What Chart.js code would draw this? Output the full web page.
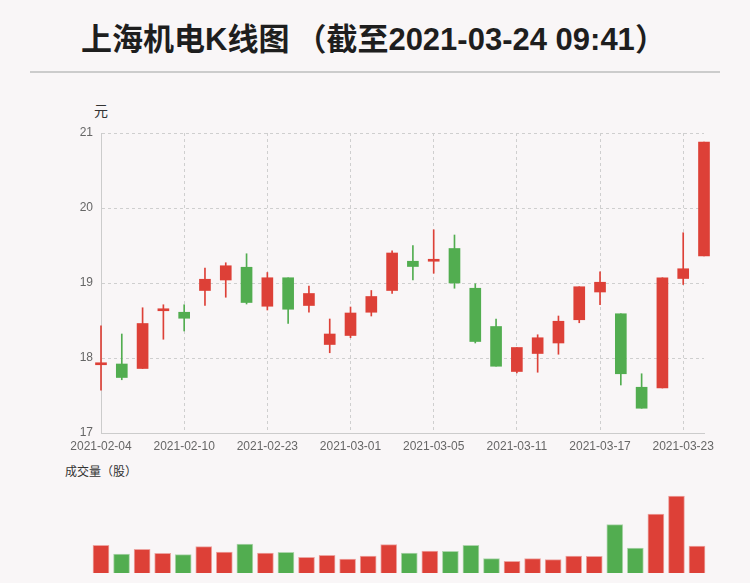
<!DOCTYPE html>
<html>
<head>
<meta charset="utf-8">
<script src="https://cdn.jsdelivr.net/npm/chart.js@4.4.0/dist/chart.umd.min.js"></script>
<style>
  body { margin: 0; background: #f9f6f7; }
  #wrap { position: relative; width: 750px; height: 583px; overflow: hidden; background: #f9f6f7; }
  .title { position: absolute; left: 81px; top: 15px; font: bold 31px "Liberation Sans", "Noto Sans CJK SC", sans-serif; color: #1e1e1e; line-height: 44px; white-space: nowrap; }
  .title .cjk { font-family: "Noto Sans CJK SC", sans-serif; }
  .title .lp { margin-left: 6px; }
  .sep { position: absolute; left: 30px; top: 71px; width: 690px; height: 2px; background: #cccccc; }
  .unit { position: absolute; font-family: "Noto Sans CJK SC", sans-serif; color: #333; white-space: nowrap; }
  canvas { position: absolute; left: 0; }
</style>
</head>
<body>
<div id="wrap">
  <div class="title"><span class="cjk">上海机电</span>K<span class="cjk">线图</span><span class="cjk lp">（截至</span>2021-03-24 09:41<span class="cjk">）</span></div>
  <div class="sep"></div>
  <div class="unit" style="left:94px; top:100px; font-size:14px; line-height:20px;">元</div>
  <div class="unit" style="left:65px; top:462px; font-size:12px; line-height:18px;">成交量（股）</div>
  <canvas id="kline" width="750" height="460" style="top:0"></canvas>
  <canvas id="vol" width="750" height="100" style="top:483px"></canvas>
</div>
<script>
const dates = ['2021-02-04', '2021-02-05', '2021-02-08', '2021-02-09', '2021-02-10',
  '2021-02-18', '2021-02-19', '2021-02-22', '2021-02-23', '2021-02-24',
  '2021-02-25', '2021-02-26', '2021-03-01', '2021-03-02', '2021-03-03',
  '2021-03-04', '2021-03-05', '2021-03-08', '2021-03-09', '2021-03-10',
  '2021-03-11', '2021-03-12', '2021-03-15', '2021-03-16', '2021-03-17',
  '2021-03-18', '2021-03-19', '2021-03-22', '2021-03-23', '2021-03-24'];
const open  = [17.91, 17.92, 17.86, 18.63, 18.61, 18.90, 19.04, 19.21, 18.69, 19.07,
  18.70, 18.18, 18.30, 18.61, 18.90, 19.29, 19.29, 19.46, 18.93, 18.42,
  17.82, 18.06, 18.20, 18.51, 18.88, 18.59, 17.61, 17.60, 19.06, 19.36];
const close = [17.91, 17.74, 18.46, 18.65, 18.53, 19.05, 19.23, 18.74, 19.07, 18.65,
  18.86, 18.32, 18.60, 18.82, 19.40, 19.22, 19.29, 19.00, 18.22, 17.89,
  18.14, 18.27, 18.49, 18.95, 19.01, 17.79, 17.33, 19.07, 19.19, 20.88];
const high  = [18.43, 18.32, 18.67, 18.71, 18.71, 19.20, 19.27, 19.39, 19.14, 19.07,
  18.96, 18.52, 18.68, 18.90, 19.43, 19.50, 19.71, 19.64, 18.99, 18.52,
  18.14, 18.31, 18.56, 18.95, 19.15, 18.59, 17.79, 19.07, 19.67, 20.88];
const low   = [17.57, 17.71, 17.86, 18.25, 18.36, 18.70, 18.81, 18.72, 18.64, 18.46,
  18.61, 18.07, 18.27, 18.56, 18.86, 19.04, 19.13, 18.93, 18.20, 17.89,
  17.80, 17.81, 18.05, 18.47, 18.71, 17.64, 17.33, 17.60, 18.98, 19.36];
const volume = [2770000, 1900000, 2370000, 1970000, 1830000, 2630000, 2100000, 2900000, 2000000, 2070000,
  1570000, 1770000, 1400000, 1700000, 2830000, 2000000, 2200000, 2170000, 2770000, 1430000,
  1170000, 1430000, 1330000, 1700000, 1670000, 4830000, 2500000, 5900000, 7700000, 2700000];
const yTicks = [17, 18, 19, 20, 21];

const RED = '#dd4037';
const GREEN = '#52ad50';
const up = open.map((o, i) => close[i] >= o);
const colors = up.map(u => u ? RED : GREEN);
const edge = up.map(u => u ? 'rgba(221,64,55,0.45)' : 'rgba(82,173,80,0.45)');

const tickFont = { family: 'Liberation Sans', size: 12 };

new Chart(document.getElementById('kline'), {
  type: 'bar',
  data: {
    labels: dates,
    datasets: [
      {
        label: 'wick',
        data: low.map((l, i) => [l, high[i]]),
        backgroundColor: colors,
        barThickness: 1,
        grouped: false,
        clip: false,
        order: 2
      },
      {
        label: 'body',
        data: open.map((o, i) => [o, close[i]]),
        backgroundColor: colors,
        barThickness: 11,
        minBarLength: 2,
        grouped: false,
        clip: false,
        order: 1
      }
    ]
  },
  options: {
    responsive: false,
    animation: false,
    devicePixelRatio: 1,
    layout: { padding: { top: 133, right: 46, left: 0, bottom: 0 } },
    plugins: { legend: { display: false }, tooltip: { enabled: false } },
    scales: {
      x: {
        offset: false,
        grid: { color: '#cfcfcf', drawTicks: false, offset: false },
        border: { color: '#cccccc', dash: [3, 3] },
        ticks: {
          autoSkip: false, maxRotation: 0, padding: 6, color: '#666', font: tickFont,
          callback: (v, i) => (i % 4 === 0 ? dates[i] : null)
        },
        afterFit: s => { s.height = 27; }
      },
      y: {
        min: yTicks[0],
        max: yTicks[yTicks.length - 1],
        grid: { color: '#cfcfcf', drawTicks: false },
        border: { color: '#cccccc', dash: [3, 3] },
        ticks: { stepSize: 1, padding: 8, color: '#666', font: tickFont },
        afterBuildTicks: s => { s.ticks = yTicks.map(v => ({ value: v })); },
        afterFit: s => { s.width = 101; }
      }
    }
  }
});

new Chart(document.getElementById('vol'), {
  type: 'bar',
  data: {
    labels: dates,
    datasets: [{
      data: volume,
      backgroundColor: colors,
      borderColor: edge,
      borderWidth: 1,
      barThickness: 16,
      clip: false
    }]
  },
  options: {
    responsive: false,
    animation: false,
    devicePixelRatio: 1,
    layout: { padding: { top: 13, right: 53, left: 101, bottom: 10 } },
    plugins: { legend: { display: false }, tooltip: { enabled: false } },
    scales: {
      x: { display: false, offset: false },
      y: { display: false, min: 0, max: Math.max(...volume) }
    }
  }
});
</script>
</body>
</html>
